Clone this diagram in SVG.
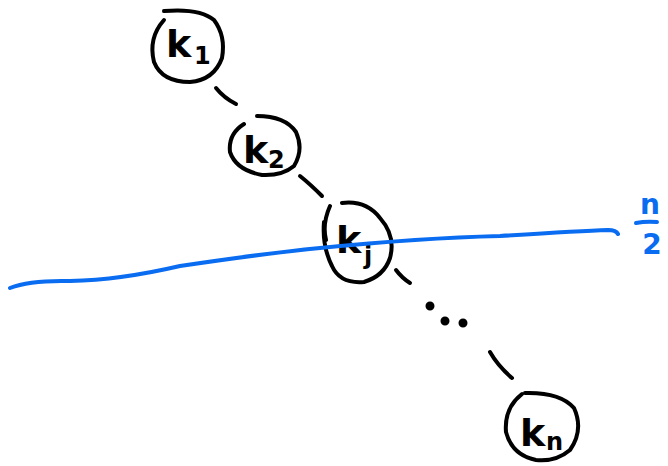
<svg xmlns="http://www.w3.org/2000/svg" width="668" height="466" viewBox="0 0 668 466">
<style>
.n{fill:none;stroke:#000;stroke-width:4;stroke-linecap:round;stroke-linejoin:round}
.t{font-family:"DejaVu Sans",sans-serif;fill:#000;font-weight:bold}
.k{font-size:38px}
.s{font-size:24px}
.b{fill:none;stroke:#0a6cf0;stroke-width:4;stroke-linecap:round}
.bt{font-family:"DejaVu Sans",sans-serif;fill:#0a6cf0;font-weight:bold;font-size:28px}
</style>
<rect width="668" height="466" fill="#fff"/>
<g id="connectors" class="n">
<path d="M216 88 Q224 98 236 104"/>
<path d="M300 176 Q310 184 322 196"/>
<path d="M396 270 Q402 278 410 283"/>
<path d="M490 352 Q498 366 512 378"/>
<circle cx="430" cy="306" r="2.5" fill="#000"/>
<circle cx="445" cy="321" r="2.5" fill="#000"/>
<circle cx="463" cy="323" r="2.5" fill="#000"/>
</g>
<g id="k1">
<path class="n" d="M164 11 Q200 8 214 20 Q226 36 222 58 Q214 80 190 82 Q162 82 154 62 Q148 38 164 20"/>
<text class="t k" x="166" y="57">k</text>
<text class="t s" x="194" y="64">1</text>
</g>
<g id="k2">
<path class="n" d="M257 116 Q285 116 296 132 Q304 150 294 166 Q282 176 262 175 Q236 170 230 152 Q228 134 244 124"/>
<text class="t k" x="243" y="163">k</text>
<text class="t s" x="268" y="168">2</text>
</g>
<g id="k3">
<path class="n" d="M342 203 Q366 200 380 218 Q396 236 390 258 Q384 276 364 282 Q340 284 332 266 Q322 246 324 222 M330 206 Q322 224 326 240"/>
<text class="t k" x="336" y="253">k</text>
<text class="t s" x="364" y="264">j</text>
</g>
<g id="kn">
<path class="n" d="M525 393 Q560 392 574 408 Q584 430 570 450 Q556 462 536 460 Q512 455 506 432 Q504 408 522 394"/>
<text class="t k" x="520" y="446">k</text>
<text class="t s" x="546" y="450">n</text>
</g>
<g id="half">
<path class="b" d="M10 288 Q30 280 70 281 Q120 280 180 266 Q260 254 320 248 Q420 238 500 236 Q580 231 608 230 Q616 230 618 234"/>
<text class="bt" x="650" y="214" text-anchor="middle">n</text>
<path class="b" d="M636 223 Q646 221 657 222"/>
<text class="bt" x="652" y="254" text-anchor="middle">2</text>
</g>
</svg>
